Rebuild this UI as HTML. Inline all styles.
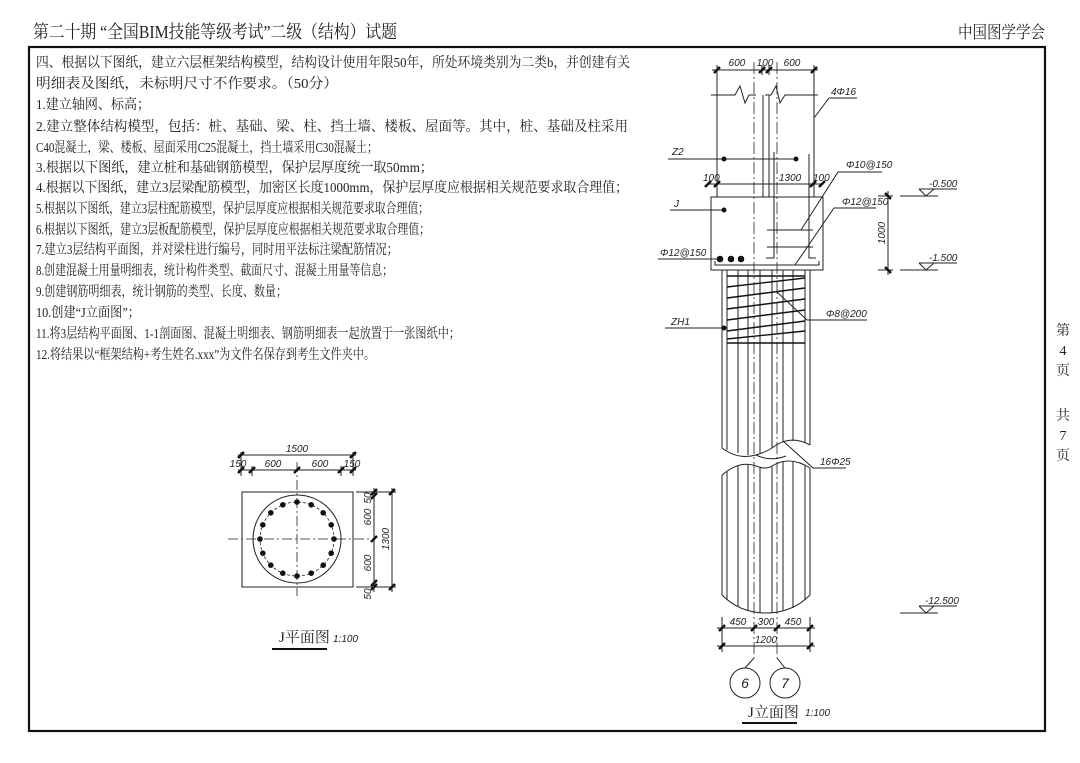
<!DOCTYPE html>
<html><head><meta charset="utf-8"><style>
html,body{margin:0;padding:0;background:#fff;}
svg{display:block;}
.t{font-family:"Liberation Serif","Noto Serif CJK SC",serif;fill:#222;}
.d{font-family:"Liberation Sans",sans-serif;font-style:italic;fill:#222;}
</style></head><body>
<svg width="1080" height="763" viewBox="0 0 1080 763" xmlns="http://www.w3.org/2000/svg">
<rect width="1080" height="763" fill="#fff"/>
<!-- header -->
<text class="t" x="33" y="38" font-size="18" textLength="364" lengthAdjust="spacingAndGlyphs">第二十期 “全国BIM技能等级考试”二级（结构）试题</text>
<text class="t" x="958" y="38" font-size="17" textLength="87" lengthAdjust="spacingAndGlyphs">中国图学学会</text>
<!-- frame -->
<rect x="29" y="47" width="1016" height="684" fill="none" stroke="#111" stroke-width="2.2"/>
<!-- side -->
<g class="t" font-size="14" text-anchor="middle">
<text x="1063" y="335">第</text><text x="1063" y="355">4</text><text x="1063" y="375">页</text>
<text x="1063" y="420">共</text><text x="1063" y="440">7</text><text x="1063" y="460">页</text>
</g>
<!-- text block -->
<g class="t" font-size="14">
<text x="36" y="67" textLength="594" lengthAdjust="spacingAndGlyphs">四、根据以下图纸，建立六层框架结构模型，结构设计使用年限50年，所处环境类别为二类b，并创建有关</text>
<text x="36" y="88" textLength="302" lengthAdjust="spacingAndGlyphs">明细表及图纸，未标明尺寸不作要求。（50分）</text>
<text x="36" y="109" textLength="114" lengthAdjust="spacingAndGlyphs">1.建立轴网、标高；</text>
<text x="36" y="131" textLength="592" lengthAdjust="spacingAndGlyphs">2.建立整体结构模型，包括：桩、基础、梁、柱、挡土墙、楼板、屋面等。其中，桩、基础及柱采用</text>
<text x="36" y="152" textLength="342" lengthAdjust="spacingAndGlyphs">C40混凝土，梁、楼板、屋面采用C25混凝土，挡土墙采用C30混凝土；</text>
<text x="36" y="172" textLength="397" lengthAdjust="spacingAndGlyphs">3.根据以下图纸，建立桩和基础钢筋模型，保护层厚度统一取50mm；</text>
<text x="36" y="192" textLength="592" lengthAdjust="spacingAndGlyphs">4.根据以下图纸，建立3层梁配筋模型，加密区长度1000mm，保护层厚度应根据相关规范要求取合理值；</text>
<text x="36" y="213" textLength="393" lengthAdjust="spacingAndGlyphs">5.根据以下图纸，建立3层柱配筋模型，保护层厚度应根据相关规范要求取合理值；</text>
<text x="36" y="234" textLength="394" lengthAdjust="spacingAndGlyphs">6.根据以下图纸，建立3层板配筋模型，保护层厚度应根据相关规范要求取合理值；</text>
<text x="36" y="254" textLength="362" lengthAdjust="spacingAndGlyphs">7.建立3层结构平面图，并对梁柱进行编号，同时用平法标注梁配筋情况；</text>
<text x="36" y="275" textLength="357" lengthAdjust="spacingAndGlyphs">8.创建混凝土用量明细表，统计构件类型、截面尺寸、混凝土用量等信息；</text>
<text x="36" y="296" textLength="251" lengthAdjust="spacingAndGlyphs">9.创建钢筋明细表，统计钢筋的类型、长度、数量；</text>
<text x="36" y="317" textLength="104" lengthAdjust="spacingAndGlyphs">10.创建“J立面图”；</text>
<text x="36" y="338" textLength="424" lengthAdjust="spacingAndGlyphs">11.将3层结构平面图、1-1剖面图、混凝土明细表、钢筋明细表一起放置于一张图纸中；</text>
<text x="36" y="359" textLength="339" lengthAdjust="spacingAndGlyphs">12.将结果以“框架结构+考生姓名.xxx”为文件名保存到考生文件夹中。</text>
</g>

<!-- ===== Plan view ===== -->
<g stroke="#222" fill="none" stroke-width="1">
<rect x="242" y="492" width="111" height="95"/>
<circle cx="297" cy="539" r="44"/>
<circle cx="297" cy="539" r="37" stroke-dasharray="3,2" stroke-width="0.8"/>
<line x1="228" y1="539" x2="375" y2="539" stroke-dasharray="10,3,2,3" stroke-width="0.8"/>
<line x1="297" y1="462" x2="297" y2="596" stroke-dasharray="10,3,2,3" stroke-width="0.8"/>
<!-- dims top -->
<line x1="238" y1="455" x2="356" y2="455"/>
<line x1="238" y1="470" x2="356" y2="470"/>
<line x1="241" y1="452" x2="241" y2="476"/><line x1="353" y1="452" x2="353" y2="476"/>
<line x1="252" y1="466" x2="252" y2="476"/><line x1="341" y1="466" x2="341" y2="476"/>
<!-- dims right -->
<line x1="356" y1="492" x2="396" y2="492"/><line x1="356" y1="587" x2="396" y2="587"/>
<line x1="374" y1="488" x2="374" y2="592"/><line x1="392" y1="488" x2="392" y2="592"/>
</g>
<g stroke="#111" stroke-width="2.5">
<line x1="238" y1="458" x2="244" y2="452"/><line x1="350" y1="458" x2="356" y2="452"/>
<line x1="238" y1="473" x2="244" y2="467"/><line x1="249" y1="473" x2="255" y2="467"/>
<line x1="294" y1="473" x2="300" y2="467"/><line x1="338" y1="473" x2="344" y2="467"/><line x1="350" y1="473" x2="356" y2="467"/>
<line x1="371" y1="495" x2="377" y2="489"/><line x1="371" y1="499" x2="377" y2="493"/>
<line x1="371" y1="542" x2="377" y2="536"/>
<line x1="371" y1="586" x2="377" y2="580"/><line x1="371" y1="590" x2="377" y2="584"/>
<line x1="389" y1="495" x2="395" y2="489"/><line x1="389" y1="590" x2="395" y2="584"/>
</g>
<g fill="#111">
<circle cx="297" cy="502" r="2.8"/><circle cx="311.2" cy="504.8" r="2.8"/><circle cx="323.2" cy="512.8" r="2.8"/><circle cx="331.2" cy="524.8" r="2.8"/>
<circle cx="334" cy="539" r="2.8"/><circle cx="331.2" cy="553.2" r="2.8"/><circle cx="323.2" cy="565.2" r="2.8"/><circle cx="311.2" cy="573.2" r="2.8"/>
<circle cx="297" cy="576" r="2.8"/><circle cx="282.8" cy="573.2" r="2.8"/><circle cx="270.8" cy="565.2" r="2.8"/><circle cx="262.8" cy="553.2" r="2.8"/>
<circle cx="260" cy="539" r="2.8"/><circle cx="262.8" cy="524.8" r="2.8"/><circle cx="270.8" cy="512.8" r="2.8"/><circle cx="282.8" cy="504.8" r="2.8"/>
</g>
<g class="d" font-size="10">
<text x="297" y="452" text-anchor="middle">1500</text>
<text x="238" y="467" text-anchor="middle">150</text>
<text x="273" y="467" text-anchor="middle">600</text>
<text x="320" y="467" text-anchor="middle">600</text>
<text x="352" y="467" text-anchor="middle">150</text>
<text transform="translate(371,498) rotate(-90)" text-anchor="middle">50</text>
<text transform="translate(371,517) rotate(-90)" text-anchor="middle">600</text>
<text transform="translate(371,563) rotate(-90)" text-anchor="middle">600</text>
<text transform="translate(371,594) rotate(-90)" text-anchor="middle">50</text>
<text transform="translate(389,539) rotate(-90)" text-anchor="middle">1300</text>
<text x="333" y="642">1:100</text>
</g>
<text class="t" x="279" y="642" font-size="15">J平面图</text>
<line x1="272" y1="649" x2="327" y2="649" stroke="#111" stroke-width="2"/>

<!-- ===== Elevation ===== -->
<g stroke="#222" fill="none" stroke-width="1">
<!-- top dims -->
<line x1="712" y1="70" x2="818" y2="70"/>
<line x1="717" y1="65" x2="717" y2="95"/><line x1="814" y1="65" x2="814" y2="95"/>
<line x1="762" y1="65" x2="762" y2="75"/><line x1="769" y1="65" x2="769" y2="75"/>
<!-- column -->
<path d="M711,95 H735 L740,86 L745,103 L749,95 H756"/>
<path d="M765,95 H771 L776,86 L780,103 L785,95 H818"/>
<line x1="717" y1="95" x2="717" y2="197"/><line x1="814" y1="95" x2="814" y2="197"/>
<line x1="763" y1="95" x2="763" y2="197"/><line x1="769" y1="95" x2="769" y2="197"/>
<!-- axes -->
<line x1="754" y1="62" x2="754" y2="658" stroke-dasharray="12,3,2,3" stroke-width="0.8"/>
<line x1="777" y1="62" x2="777" y2="658" stroke-dasharray="12,3,2,3" stroke-width="0.8"/>
<!-- leaders -->
<path d="M814,118 L829,98 H857"/>
<line x1="668" y1="159" x2="796" y2="159"/>
<line x1="708" y1="184" x2="822" y2="184"/>
<line x1="670" y1="210" x2="724" y2="210"/>
<line x1="658" y1="259" x2="720" y2="259"/>
<path d="M801,230 L838,172 H882"/>
<path d="M795,265 L834,208 H876"/>
<!-- cap -->
<rect x="711" y="197" width="112" height="73"/>
<path d="M715,261 V265 H819 V261"/>
<line x1="767" y1="230" x2="813" y2="230"/><line x1="767" y1="247" x2="813" y2="247"/>
<!-- pile -->
<line x1="722" y1="270" x2="722" y2="448"/><line x1="810" y1="270" x2="810" y2="445"/>
<g stroke-width="1">
<line x1="727" y1="270" x2="727" y2="450"/><line x1="738" y1="270" x2="738" y2="453"/>
<line x1="748" y1="270" x2="748" y2="455"/><line x1="760" y1="270" x2="760" y2="453"/>
<line x1="772" y1="270" x2="772" y2="448"/><line x1="783" y1="270" x2="783" y2="442"/>
<line x1="793" y1="270" x2="793" y2="441"/><line x1="805" y1="270" x2="805" y2="443"/>
</g>
<path d="M722,448 Q738,460 756,455 Q766,452 772,448 Q790,434 810,445"/>
<path d="M722,475 Q740,460 756,466 Q766,470 772,466 Q790,455 810,468"/>
<path d="M756,455 Q770,462 786,456"/>
<line x1="722" y1="475" x2="722" y2="595"/><line x1="810" y1="468" x2="810" y2="595"/>
<path d="M722,595 Q740,613 766,613 Q792,613 810,595"/>
<line x1="727" y1="472" x2="727" y2="600"/><line x1="738" y1="466" x2="738" y2="607"/>
<line x1="748" y1="464" x2="748" y2="611"/><line x1="760" y1="468" x2="760" y2="613"/>
<line x1="772" y1="466" x2="772" y2="613"/><line x1="783" y1="461" x2="783" y2="611"/>
<line x1="793" y1="461" x2="793" y2="608"/><line x1="805" y1="465" x2="805" y2="600"/>
<path d="M783,441 L813,468 H846"/>
<!-- levels -->
<line x1="878" y1="196" x2="893" y2="196"/><line x1="878" y1="270" x2="893" y2="270"/>
<line x1="888" y1="191" x2="888" y2="275"/>
<line x1="900" y1="196" x2="938" y2="196"/><path d="M919,189 H957 M919,189 L926,196 L934,189"/>
<line x1="900" y1="270" x2="938" y2="270"/><path d="M919,263 H957 M919,263 L926,270 L934,263"/>
<line x1="900" y1="613" x2="938" y2="613"/><path d="M919,606 H957 M919,606 L926,613 L934,606"/>
<!-- bottom dims -->
<line x1="717" y1="628" x2="815" y2="628"/><line x1="717" y1="646" x2="815" y2="646"/>
<line x1="722" y1="617" x2="722" y2="652"/><line x1="810" y1="617" x2="810" y2="652"/>
<path d="M754,658 L745,668"/><path d="M777,658 L785,668"/>
<circle cx="745" cy="683" r="15"/><circle cx="785" cy="683" r="15"/>
<!-- Z2 vertical bars -->
<path d="M774,152 V258 H766"/><path d="M809,154 V258 H816"/>
</g>
<!-- spiral -->
<g stroke="#111" stroke-width="1.4">
<line x1="727" y1="276" x2="805" y2="276"/>
<line x1="727" y1="287" x2="805" y2="278"/>
<line x1="727" y1="298" x2="805" y2="288"/>
<line x1="727" y1="309" x2="805" y2="299"/>
<line x1="727" y1="320" x2="805" y2="310"/>
<line x1="727" y1="331" x2="805" y2="321"/>
<line x1="727" y1="339" x2="805" y2="331"/>
<line x1="727" y1="343" x2="805" y2="343"/>
</g>
<g stroke="#111" stroke-width="2.5">
<line x1="714" y1="73" x2="720" y2="67"/><line x1="759" y1="73" x2="765" y2="67"/><line x1="766" y1="73" x2="772" y2="67"/><line x1="811" y1="73" x2="817" y2="67"/>
<line x1="705" y1="187" x2="711" y2="181"/><line x1="714" y1="187" x2="720" y2="181"/><line x1="810" y1="187" x2="816" y2="181"/><line x1="819" y1="187" x2="825" y2="181"/>
<line x1="885" y1="193" x2="891" y2="199"/><line x1="885" y1="267" x2="891" y2="273"/>
<line x1="719" y1="631" x2="725" y2="625"/><line x1="751" y1="631" x2="757" y2="625"/><line x1="774" y1="631" x2="780" y2="625"/><line x1="807" y1="631" x2="813" y2="625"/>
<line x1="719" y1="649" x2="725" y2="643"/><line x1="807" y1="649" x2="813" y2="643"/>
</g>
<g fill="#111">
<circle cx="724" cy="159" r="2.5"/><circle cx="796" cy="159" r="2.5"/>
<circle cx="724" cy="210" r="2.5"/>
<circle cx="720" cy="259" r="3.3"/><circle cx="731" cy="259" r="3.3"/><circle cx="741" cy="259" r="3.3"/>
<circle cx="724" cy="328" r="2.5"/>
</g>
<line x1="665" y1="328" x2="724" y2="328" stroke="#222"/>
<path d="M777,292 L807,320 H867" stroke="#222" fill="none"/>
<g class="d" font-size="10">
<text x="737" y="66" text-anchor="middle">600</text>
<text x="765" y="66" text-anchor="middle">100</text>
<text x="792" y="66" text-anchor="middle">600</text>
<text x="831" y="95">4Φ16</text>
<text x="672" y="155">Z2</text>
<text x="703" y="181">100</text>
<text x="779" y="181">1300</text>
<text x="813" y="181">100</text>
<text x="846" y="168">Φ10@150</text>
<text x="842" y="205">Φ12@150</text>
<text x="674" y="207">J</text>
<text x="660" y="256">Φ12@150</text>
<text x="671" y="325">ZH1</text>
<text x="826" y="317">Φ8@200</text>
<text x="820" y="465">16Φ25</text>
<text x="929" y="187">-0.500</text>
<text x="929" y="261">-1.500</text>
<text x="925" y="604">-12.500</text>
<text transform="translate(885,233) rotate(-90)" text-anchor="middle">1000</text>
<text x="738" y="625" text-anchor="middle">450</text>
<text x="766" y="625" text-anchor="middle">300</text>
<text x="793" y="625" text-anchor="middle">450</text>
<text x="766" y="643" text-anchor="middle">1200</text>
<text x="805" y="716">1:100</text>
</g>
<g class="d" font-size="14" text-anchor="middle"><text x="745" y="688">6</text><text x="785" y="688">7</text></g>
<text class="t" x="748" y="717" font-size="15">J立面图</text>
<line x1="742" y1="723" x2="797" y2="723" stroke="#111" stroke-width="2"/>
</svg>
</body></html>
